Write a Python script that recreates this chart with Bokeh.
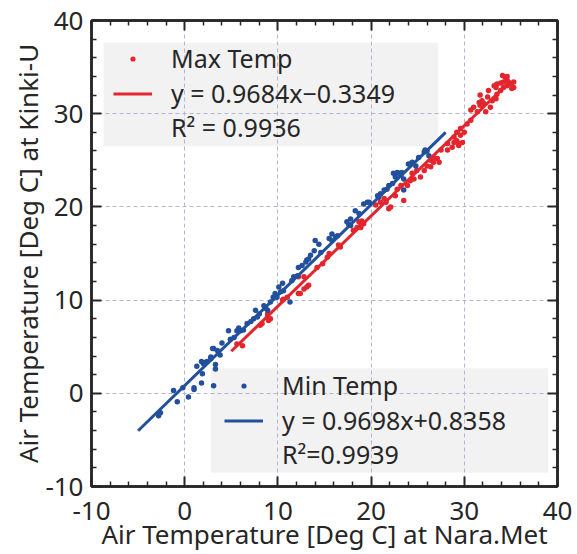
from bokeh.plotting import figure
from bokeh.models import (Range1d, LinearAxis, FixedTicker, Legend, LegendItem,
                          BoxAnnotation)
from bokeh.embed import file_html
from bokeh.resources import INLINE

# ---------------- data ----------------
# Max Temp: x = Nara.Met, y = Kinki-U
max_x = [5.6, 6.2, 8.1, 8.3, 8.9, 9.0, 9.2, 8.9, 12.4, 10.6, 12.8, 13.3, 10.5, 11.0,
         12.2, 13.1, 12.2, 12.8, 14.2, 14.8, 15.3, 15.5, 16.5, 16.7, 18.1, 18.5, 18.9,
         19.0, 20.5, 21.0, 21.4, 21.9, 22.1, 22.6, 22.8, 23.2, 23.5, 24.2, 24.4, 24.9,
         25.3, 26.0, 26.4, 26.7, 27.1, 27.3, 27.5, 28.9, 29.2, 29.6, 30.0, 29.4, 28.2,
         28.7, 29.4, 29.8, 30.3, 30.7, 30.7, 31.4, 31.7, 31.9, 32.1, 31.7, 32.5, 32.6,
         32.3, 33.0, 33.4, 33.2, 33.5, 33.9, 34.2, 34.1, 34.4, 34.6, 33.9, 34.2, 34.6,
         35.0, 35.3, 35.1, 33.5, 32.8, 18.7, 18.9, 19.2, 21.6, 23.9, 24.6, 25.7, 26.4,
         26.7, 28.2, 28.9, 29.2, 29.6, 31.0, 31.6, 33.4, 34.6, 35.3]
max_y = [5.3, 5.1, 7.3, 7.5, 8.2, 7.8, 8.0, 8.5, 10.7, 10.1, 11.2, 11.6, 10.0, 10.3,
         10.7, 11.4, 12.5, 12.5, 13.5, 13.9, 14.6, 15.0, 15.9, 15.7, 17.5, 17.8, 18.2,
         18.5, 20.2, 20.5, 20.9, 19.8, 20.0, 21.2, 21.9, 22.3, 20.7, 22.8, 23.6, 23.9,
         23.2, 24.4, 25.0, 25.3, 25.2, 24.8, 26.1, 26.9, 27.1, 27.7, 28.0, 26.6, 26.1,
         26.4, 26.8, 26.9, 28.9, 29.3, 30.4, 30.2, 30.9, 31.4, 31.1, 32.0, 31.8, 32.5,
         30.2, 31.4, 31.6, 33.0, 33.2, 33.3, 33.4, 34.1, 33.9, 34.0, 32.5, 32.8, 33.0,
         33.2, 33.4, 32.7, 32.1, 30.7, 18.4, 17.8, 18.2, 20.5, 22.3, 23.0, 23.9, 24.3,
         24.8, 26.8, 27.5, 28.0, 28.4, 30.7, 31.2, 32.8, 33.6, 32.8]

# Min Temp
min_x = [-2.8, -2.6, -1.2, -0.8, -0.2, 0.4, 1.0, 1.0, 1.3, 1.8, 1.9, 2.2, 3.1, 3.3,
         3.3, 2.8, 3.1, 3.5, 3.8, 4.0, 4.7, 4.9, 5.3, 5.8, 6.0, 6.3, 6.7, 7.1, 7.4,
         7.8, 8.5, 8.7, 9.2, 9.5, 9.9, 10.3, 10.6, 11.3, 1.8, 2.4, 2.8, 3.0, 2.0, 5.6,
         7.6, 8.0, 8.9, 9.7, 10.5, 11.5, 12.1, 12.6, 13.1, 10.1, 11.7, 12.2, 13.0, 13.3,
         13.5, 13.9, 14.0, 14.4, 14.6, 15.5, 15.8, 16.2, 17.4, 17.8, 18.3, 19.2, 19.8,
         20.7, 21.0, 21.4, 21.9, 22.3, 22.6, 23.0, 23.3, 23.5, 24.0, 24.4, 25.1, 25.7,
         25.8, 26.2, 15.8, 16.4, 17.6, 17.8, 18.7, 19.6, 20.8, 21.7, 22.4, 22.8, 23.2,
         23.5, 24.8, 26.0]
min_y = [-2.4, -2.1, 0.3, -0.9, 0.6, -0.4, 0.6, 0.4, 2.9, 1.1, 2.1, 3.3, 0.8, 2.6,
         3.1, 3.9, 4.8, 4.6, 4.1, 5.4, 6.7, 5.8, 6.0, 7.0, 6.7, 6.8, 7.5, 7.7, 8.0,
         8.2, 9.4, 9.1, 9.8, 10.3, 10.3, 10.9, 11.0, 9.8, 3.4, 3.4, 3.7, 4.8, 3.2, 6.7,
         8.9, 8.5, 8.9, 10.7, 11.8, 12.1, 12.6, 13.7, 14.3, 11.4, 12.5, 13.5, 14.1, 14.4,
         14.8, 15.3, 16.4, 16.0, 15.1, 16.6, 16.4, 16.8, 18.4, 18.0, 19.6, 20.3, 20.5,
         21.2, 21.4, 21.8, 22.3, 22.5, 23.2, 23.6, 23.7, 23.0, 24.6, 24.8, 25.3, 25.9,
         26.1, 25.5, 17.1, 16.9, 18.1, 18.7, 19.3, 20.5, 21.0, 21.9, 23.6, 23.7, 23.4,
         21.8, 24.4, 26.0]

# regression results as printed in the chart
max_slope, max_icept, max_r2 = 0.9684, -0.3349, 0.9936
min_slope, min_icept, min_r2 = 0.9698, 0.8358, 0.9939
max_fit_x = [5, 35]
min_fit_x = [-5, 28]

axis_ticks = [-10, 0, 10, 20, 30, 40]
tick_labels = ["-10", "0", "10", "20", "30", "40"]
minor_ticks = [v for v in range(-10, 41, 2) if v % 10 != 0]

x_title = "Air Temperature [Deg C] at Nara.Met"
y_title = "Air Temperature [Deg C] at Kinki-U"

max_fit_y = [max_slope * v + max_icept for v in max_fit_x]
min_fit_y = [min_slope * v + min_icept for v in min_fit_x]

# ---------------- style ----------------
FONT = "Noto Sans"
FS = "26px"
LEG_FS = "25px"
RED = "#e3262d"
BLUE = "#22509c"
INK = "#262626"
PANEL = "#f2f2f2"

p = figure(width=577, height=554, x_range=Range1d(-10, 40), y_range=Range1d(-10, 40),
           output_backend="svg", toolbar_location=None,
           min_border_left=91, min_border_right=20, min_border_top=20,
           min_border_bottom=68)
p.background_fill_color = "white"
p.border_fill_color = "white"
p.outline_line_color = INK
p.outline_line_width = 2.5

# legend panels (behind the grid, as in the original)
p.add_layout(BoxAnnotation(left=-8.7, right=27.2, top=37.6, bottom=26.5,
                           fill_color=PANEL, fill_alpha=1, line_color=None, level="image"))
p.add_layout(BoxAnnotation(left=2.8, right=39.0, top=2.7, bottom=-8.5,
                           fill_color=PANEL, fill_alpha=1, line_color=None, level="image"))

ticker = FixedTicker(ticks=axis_ticks, minor_ticks=minor_ticks)


def style_axis(ax, labels):
    ax.ticker = ticker
    ax.axis_line_color = INK
    ax.axis_line_width = 2.5
    ax.major_tick_line_color = INK
    ax.major_tick_line_width = 2
    ax.minor_tick_line_color = INK
    ax.minor_tick_line_width = 1.5
    ax.major_tick_in = 10
    ax.major_tick_out = 0
    ax.minor_tick_in = 5
    ax.minor_tick_out = 0
    if labels:
        ax.major_label_overrides = dict(zip(axis_ticks, tick_labels))
        ax.major_label_text_font = FONT
        ax.major_label_text_font_size = FS
        ax.major_label_text_color = INK
        ax.axis_label_text_font = FONT
        ax.axis_label_text_font_size = FS
        ax.axis_label_text_font_style = "normal"
        ax.axis_label_text_color = INK
    else:
        ax.major_label_text_font_size = "1px"
        ax.major_label_text_color = None
        ax.major_label_standoff = 0


p.xaxis.axis_label = x_title
p.yaxis.axis_label = y_title
style_axis(p.xaxis[0], True)
style_axis(p.yaxis[0], True)
p.xaxis.major_label_standoff = 15
p.xaxis.axis_label_standoff = -7
p.yaxis.major_label_standoff = 8
p.yaxis.axis_label_standoff = -4

top_ax = LinearAxis()
right_ax = LinearAxis()
style_axis(top_ax, False)
style_axis(right_ax, False)
p.add_layout(top_ax, "above")
p.add_layout(right_ax, "right")

for g in (p.xgrid[0], p.ygrid[0]):
    g.ticker = ticker
    g.grid_line_color = "#b4b4d6"
    g.grid_line_width = 1
    g.grid_line_dash = "4 3"

# ---------------- marks ----------------
r_max = p.scatter(max_x, max_y, size=5.5, color=RED, line_color=None)
r_min = p.scatter(min_x, min_y, size=5.5, color=BLUE, line_color=None)
r_max_fit = p.line(max_fit_x, max_fit_y, line_color=RED, line_width=3)
r_min_fit = p.line(min_fit_x, min_fit_y, line_color=BLUE, line_width=3)
r_blank = p.scatter([], [], size=1, fill_alpha=0, line_alpha=0)


def eq(slope, icept):
    sign = "−" if icept < 0 else "+"
    return f"y = {slope:.4f}x{sign}{abs(icept):.4f}"


def legend_row(label, renderer, loc):
    leg = Legend(items=[LegendItem(label=label, renderers=[renderer])], location=loc)
    leg.background_fill_alpha = 0
    leg.border_line_color = None
    leg.label_text_font = FONT
    leg.label_text_font_size = LEG_FS
    leg.label_text_color = INK
    leg.glyph_width = 39
    leg.glyph_height = 13
    leg.label_height = 30
    leg.label_standoff = 19
    leg.spacing = 0
    leg.padding = 4
    leg.margin = 0
    p.add_layout(leg)


# one legend per row so the rows sit at the original's spacing
legend_row("Max Temp", r_max, (22, 411))
legend_row(eq(max_slope, max_icept), r_max_fit, (22, 376))
legend_row(f"R\u00b2 = {max_r2:.4f}", r_blank, (22, 342))
legend_row("Min Temp", r_min, (133, 84))
legend_row(eq(min_slope, min_icept), r_min_fit, (133, 49))
legend_row(f"R\u00b2={min_r2:.4f}", r_blank, (133, 15))

open("out.html", "w").write(file_html(p, INLINE))
